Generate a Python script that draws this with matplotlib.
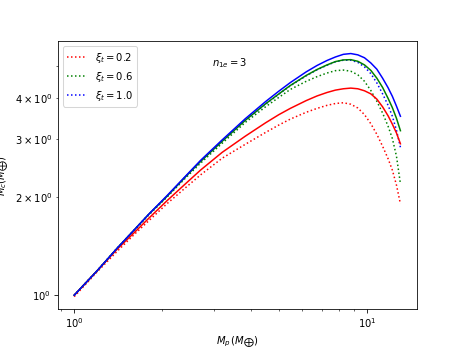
import numpy as np
import matplotlib.pyplot as plt

# masa del planeta (M_tierra)
Mp = [1.0, 1.2, 1.4, 1.6, 1.8, 2.07, 2.4, 2.7, 3.2, 3.84, 4.5, 5.0, 5.47, 6.2,
      6.75, 7.3, 7.8, 8.3, 8.8, 9.3, 9.8, 10.3, 10.8, 11.3, 11.8, 12.2, 12.6, 13.0]

# curvas punteadas (xi_t = 0.2, 0.6, 1.0)
Mc_r_dot = [0.99, 1.18, 1.36, 1.53, 1.69, 1.90, 2.13, 2.33, 2.62, 2.89, 3.14,
            3.31, 3.45, 3.62, 3.72, 3.80, 3.85, 3.87, 3.83, 3.73, 3.56, 3.34,
            3.10, 2.85, 2.61, 2.41, 2.17, 1.90]
Mc_g_dot = [1.0, 1.19, 1.39, 1.57, 1.76, 1.99, 2.28, 2.53, 2.91, 3.37, 3.76,
            4.02, 4.25, 4.50, 4.65, 4.77, 4.85, 4.87, 4.83, 4.71, 4.50, 4.22,
            3.91, 3.60, 3.28, 3.01, 2.66, 2.19]
Mc_b_dot = [1.0, 1.19, 1.39, 1.58, 1.77, 2.00, 2.30, 2.56, 2.95, 3.42, 3.83,
            4.11, 4.36, 4.68, 4.88, 5.04, 5.16, 5.22, 5.22, 5.14, 4.98, 4.75,
            4.45, 4.12, 3.80, 3.52, 3.19, 2.83]

# curvas solidas
Mc_r = [1.0, 1.19, 1.38, 1.55, 1.72, 1.94, 2.19, 2.41, 2.73, 3.06, 3.36,
        3.56, 3.72, 3.93, 4.06, 4.16, 4.23, 4.27, 4.29, 4.27, 4.21, 4.12,
        3.97, 3.76, 3.53, 3.33, 3.13, 2.90]
Mc_g = [1.0, 1.19, 1.39, 1.58, 1.77, 2.00, 2.30, 2.56, 2.95, 3.42, 3.84,
        4.12, 4.37, 4.69, 4.89, 5.05, 5.17, 5.23, 5.24, 5.18, 5.05, 4.86,
        4.60, 4.31, 3.99, 3.74, 3.47, 3.18]
Mc_b = [1.0, 1.19, 1.39, 1.58, 1.77, 2.01, 2.31, 2.58, 2.98, 3.46, 3.90,
        4.20, 4.46, 4.81, 5.03, 5.21, 5.34, 5.44, 5.47, 5.42, 5.31, 5.12,
        4.90, 4.60, 4.30, 4.05, 3.78, 3.52]

xi = ['0.2', '0.6', '1.0']

fig = plt.figure(figsize=(6.4, 4.8), dpi=72.35)
ax = fig.add_subplot(111)
ax.loglog(Mp, Mc_r_dot, 'r:', label=r'$\xi_t=$' + xi[0])
ax.loglog(Mp, Mc_g_dot, 'g:', label=r'$\xi_t=$' + xi[1])
ax.loglog(Mp, Mc_b_dot, 'b:', label=r'$\xi_t=$' + xi[2])
ax.loglog(Mp, Mc_r, 'r-')
ax.loglog(Mp, Mc_g, 'g-')
ax.loglog(Mp, Mc_b, 'b-')
ax.text(0.43, 0.92, r'$n_{1e}=3$', transform=ax.transAxes, va='center')
ax.set_xlabel(r'$M_p\,(M_\bigoplus)$')
ax.set_ylabel(r'$M_c(M_\bigoplus)$')
ax.legend(loc='upper left')
fig.savefig('out.png')
